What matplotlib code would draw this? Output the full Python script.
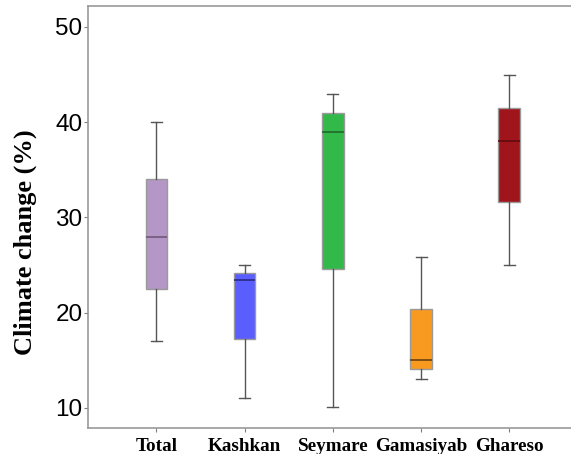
import matplotlib
matplotlib.use("Agg")
import matplotlib.pyplot as plt

categories = ["Total", "Kashkan", "Seymare", "Gamasiyab", "Ghareso"]
whisker_low = [17.0, 11.1, 10.1, 13.05, 25.0]
q1 = [22.5, 17.2, 24.6, 14.1, 31.6]
median = [28.0, 23.4, 39.0, 15.0, 38.0]
q3 = [34.0, 24.2, 41.0, 20.4, 41.5]
whisker_high = [40.0, 25.0, 43.0, 25.9, 45.0]
yticks = [10, 20, 30, 40, 50]

fill_colors = ["#B497C6", "#5B5EFF", "#33B84A", "#F89A20", "#A0141B"]
median_colors = ["#6E5A7A", "#2A2C80", "#1E6B2A", "#6B4010", "#5E0C10"]

fig = plt.figure(figsize=(5.71, 4.54), dpi=100)
ax = fig.add_axes([0.1541, 0.0573, 0.8459, 0.9295])

stats = []
for i, c in enumerate(categories):
    stats.append(dict(label=c, whislo=whisker_low[i], q1=q1[i], med=median[i],
                      q3=q3[i], whishi=whisker_high[i], fliers=[]))

positions = list(range(len(categories)))
res = ax.bxp(stats, positions=positions, widths=0.246, patch_artist=True,
             showfliers=False, capwidths=0.125,
             whiskerprops=dict(color="#555555", lw=1.0),
             capprops=dict(color="#555555", lw=1.0),
             boxprops=dict(edgecolor="#9A9A9A", lw=1.0),
             medianprops=dict(lw=1.2))
for i, b in enumerate(res["boxes"]):
    b.set_facecolor(fill_colors[i])
    b.set_edgecolor("#9A9A9A")
for i, m in enumerate(res["medians"]):
    m.set_color(median_colors[i])

ax.set_xlim(-0.776, 4.70)
ax.set_ylim(7.9, 52.2)
ax.set_yticks(yticks)
ax.set_yticklabels([str(v) for v in yticks], family="Liberation Sans", fontsize=17.5)
ax.set_xticks(positions)
ax.set_xticklabels(categories, family="Liberation Serif", fontweight="bold", fontsize=13.8)
ax.tick_params(axis="both", color="#808080", length=3, width=0.8)
ax.tick_params(axis="x", pad=4)
ax.tick_params(axis="y", pad=1)

for s in ["left", "bottom", "top"]:
    ax.spines[s].set_color("#9A9A9A")
    ax.spines[s].set_linewidth(1.2)
ax.spines["right"].set_visible(False)

ax.set_ylabel("Climate change (%)", family="Liberation Serif", fontweight="bold",
              fontsize=19)
ax.yaxis.set_label_coords(-0.105, 0.44)

fig.savefig("out.png", dpi=100)
